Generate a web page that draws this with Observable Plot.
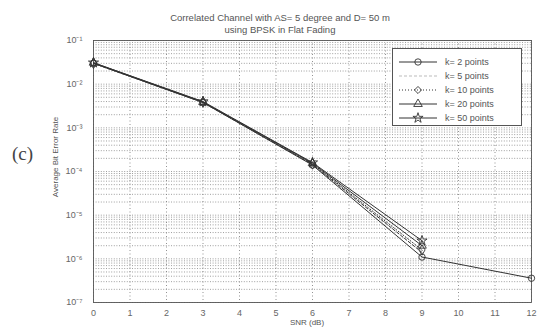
<!DOCTYPE html>
<html><head><meta charset="utf-8">
<script src="https://cdn.jsdelivr.net/npm/d3@7"></script>
<script src="https://cdn.jsdelivr.net/npm/@observablehq/plot@0.6"></script>
<style>
body{margin:0;background:#fff;}
#wrap{position:relative;width:546px;height:329px;font-family:"Liberation Sans",Arial,sans-serif;color:#555;overflow:hidden;}
#wrap svg.plot{position:absolute;left:0;top:0;}
.title{position:absolute;left:130px;width:300px;text-align:center;font-size:9.5px;line-height:12px;top:12px;color:#555;}
.ylab{position:absolute;left:55px;top:157px;transform:translate(-50%,-50%) rotate(-90deg);font-size:8px;white-space:nowrap;color:#555;}
.xlab{position:absolute;left:307px;top:322px;transform:translate(-50%,-50%);font-size:8px;color:#555;}
.panel{position:absolute;left:12px;top:143px;font-family:"Liberation Serif","Times New Roman",serif;font-size:19px;color:#444;}
.legend{position:absolute;left:392px;top:48px;width:130px;height:78px;border:1px solid #555;background:#fff;box-sizing:border-box;}
.legend .row{position:absolute;left:4px;height:12px;display:flex;align-items:center;font-size:9px;color:#555;}
.legend .row span{margin-left:6px;}
</style></head><body>
<div id="wrap"></div>
<script>
const snr = [0, 3, 6, 9, 12];
const seriesNames = ["k= 2 points", "k= 5 points", "k= 10 points", "k= 20 points", "k= 50 points"];
const k2  = [0.030, 3.8e-3, 1.40e-4, 1.1e-6, 3.6e-7];
const k5  = [0.030, 3.8e-3, 1.45e-4, 1.4e-6];
const k10 = [0.030, 3.9e-3, 1.50e-4, 1.6e-6];
const k20 = [0.031, 3.9e-3, 1.55e-4, 2.0e-6];
const k50 = [0.031, 4.0e-3, 1.60e-4, 2.6e-6];
const xTicks = [0,1,2,3,4,5,6,7,8,9,10,11,12];
const yTicks = [1e-7,1e-6,1e-5,1e-4,1e-3,1e-2,1e-1];
const yTickLabels = ["10⁻⁷","10⁻⁶","10⁻⁵","10⁻⁴","10⁻³","10⁻²","10⁻¹"];
const titleLines = ["Correlated Channel with AS= 5 degree and D= 50 m", "using BPSK in Flat Fading"];

const allSeries = [k2, k5, k10, k20, k50];
const symbols = ["circle", null, "diamond", "triangle", "star"];
const dashes = [null, "3,2", "1,2", null, null];
const rows = [];
allSeries.forEach((vals, i) => vals.forEach((v, j) => rows.push({snr: snr[j], ber: v, k: seriesNames[i], i})));

const minor = [];
for (let e = -7; e < -1; e++) for (let m = 1; m < 10; m++) minor.push(m * Math.pow(10, e));
minor.push(1e-1);

const lineColor = "#333";
const marks = [
  Plot.ruleY(minor, {stroke: "#777", strokeDasharray: "1,1.6", strokeWidth: 0.7}),
  Plot.ruleX(xTicks, {stroke: "#777", strokeDasharray: "1,2.5", strokeWidth: 0.8}),
  Plot.frame({stroke: "#555", strokeWidth: 0.9}),
  Plot.axisX({ticks: xTicks, label: null, tickSize: 0, tickPadding: 7, fontSize: 9, fill: "#666", tickFormat: d => String(d)}),
  Plot.axisY({ticks: yTicks, label: null, tickSize: 0, tickPadding: 11, fontSize: 9, fill: "#666", tickFormat: d => yTickLabels[yTicks.findIndex(t => Math.abs(Math.log10(t) - Math.log10(d)) < 1e-6)]}),
];
allSeries.forEach((vals, i) => {
  const data = rows.filter(r => r.i === i);
  marks.push(Plot.line(data, {x: "snr", y: "ber", stroke: lineColor, strokeWidth: 1, strokeDasharray: dashes[i]}));
  if (symbols[i]) marks.push(Plot.dot(data, {x: "snr", y: "ber", symbol: () => symbols[i], r: 3.2, stroke: lineColor, strokeWidth: 0.9, fill: "none"}));
});

const chart = Plot.plot({
  width: 546, height: 329,
  marginLeft: 93, marginRight: 15, marginTop: 40, marginBottom: 27,
  style: {background: "transparent", fontFamily: "Liberation Sans, Arial, sans-serif"},
  x: {domain: [0, 12], axis: null, label: null},
  y: {type: "log", domain: [1e-7, 1e-1], axis: null, label: null},
  symbol: {type: "identity"},
  marks
});
chart.classList.add("plot");
const wrap = document.getElementById("wrap");
wrap.appendChild(chart);

const t = document.createElement("div"); t.className = "title"; t.innerHTML = titleLines.join("<br>"); wrap.appendChild(t);
const yl = document.createElement("div"); yl.className = "ylab"; yl.textContent = "Average Bit Error Rate"; wrap.appendChild(yl);
const xl = document.createElement("div"); xl.className = "xlab"; xl.textContent = "SNR (dB)"; wrap.appendChild(xl);
const pc = document.createElement("div"); pc.className = "panel"; pc.textContent = "(c)"; wrap.appendChild(pc);

const lg = document.createElement("div"); lg.className = "legend"; wrap.appendChild(lg);
const symMap = {circle: d3.symbolCircle, diamond: d3.symbolDiamond2, triangle: d3.symbolTriangle, star: d3.symbolStar};
seriesNames.forEach((name, i) => {
  const row = document.createElement("div"); row.className = "row"; row.style.top = (7 + i * 14) + "px";
  const ns = "http://www.w3.org/2000/svg";
  const s = document.createElementNS(ns, "svg"); s.setAttribute("width", 42); s.setAttribute("height", 12);
  const ln = document.createElementNS(ns, "line");
  ln.setAttribute("x1", 2); ln.setAttribute("x2", 40); ln.setAttribute("y1", 6); ln.setAttribute("y2", 6);
  ln.setAttribute("stroke", dashes[i] === "3,2" ? "#bbb" : lineColor); ln.setAttribute("stroke-width", 1);
  if (dashes[i]) ln.setAttribute("stroke-dasharray", dashes[i]);
  s.appendChild(ln);
  if (symbols[i]) {
    const p = document.createElementNS(ns, "path");
    p.setAttribute("d", d3.symbol(symMap[symbols[i]], 32)());
    p.setAttribute("transform", "translate(21,6)");
    p.setAttribute("fill", "none"); p.setAttribute("stroke", lineColor); p.setAttribute("stroke-width", 0.9);
    s.appendChild(p);
  }
  row.appendChild(s);
  const sp = document.createElement("span"); sp.textContent = name; row.appendChild(sp);
  lg.appendChild(row);
});
</script>
</body></html>
